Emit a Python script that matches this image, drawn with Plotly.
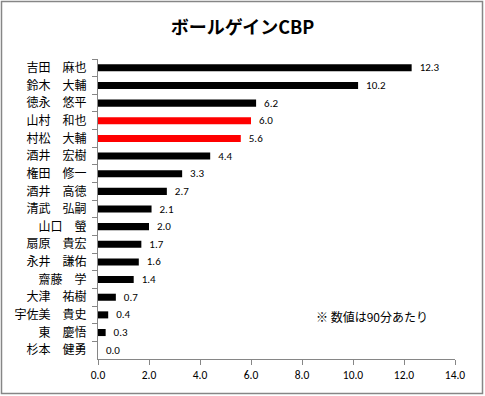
import plotly.graph_objects as go

names = ["吉田　麻也", "鈴木　大輔", "徳永　悠平", "山村　和也", "村松　大輔",
         "酒井　宏樹", "権田　修一", "酒井　高徳", "清武　弘嗣", "山口　螢",
         "扇原　貴宏", "永井　謙佑", "齋藤　学", "大津　祐樹", "宇佐美　貴史",
         "東　慶悟", "杉本　健勇"]
values = [12.3, 10.2, 6.2, 6.0, 5.6, 4.4, 3.3, 2.7, 2.1, 2.0, 1.7, 1.6, 1.4, 0.7, 0.4, 0.3, 0.0]
highlight = ["山村　和也", "村松　大輔"]
x_ticks = [0, 2, 4, 6, 8, 10, 12, 14]
title = "ボールゲインCBP"
note = "※ 数値は90分あたり"

colors = ["#FF0000" if n in highlight else "#000000" for n in names]

jp = "Noto Sans CJK JP, sans-serif"
num = "Carlito, Liberation Sans, Noto Sans CJK JP, sans-serif"

fig = go.Figure(go.Bar(
    y=names, x=values, orientation="h",
    marker=dict(color=colors, line=dict(width=0)),
    width=0.4,
    text=["\u00a0\u00a0" + f"{v:.1f}" for v in values],
    textposition="outside",
    constraintext="none",
    textfont=dict(family=num, size=11, color="#000000"),
    cliponaxis=False,
))

W, H = 485, 396
L, R, T, B = 98, 30, 59, 37
pw, ph = W - L - R, H - T - B

def px_x(p):
    return (p - L) / pw

def px_y(p):
    return (H - B - p) / ph

fig.update_layout(
    width=W, height=H,
    margin=dict(l=L, r=R, t=T, b=B, autoexpand=False),
    paper_bgcolor="white", plot_bgcolor="white",
    showlegend=False,
    title=dict(text=f"<b>{title}</b>", x=0.5, xanchor="center", y=1 - 28 / H, yanchor="middle",
               font=dict(family=jp, size=18, color="#000000")),
    xaxis=dict(range=[0, 14], tickvals=x_ticks, ticktext=[f"{t:.1f}" for t in x_ticks],
               showgrid=False, zeroline=False, showline=True, linecolor="#868686", linewidth=1,
               ticks="outside", ticklen=5, tickcolor="#868686", automargin=False,
               tickfont=dict(family=num, size=11.5, color="#000000")),
    yaxis=dict(autorange="reversed", showgrid=False, showline=True, linecolor="#868686", linewidth=1,
               ticks="outside", ticklen=5, tickcolor="#868686", tickson="boundaries",
               automargin=False, ticklabelstandoff=8,
               tickfont=dict(family=jp, size=12, color="#000000")),
    bargap=0.6,
    annotations=[dict(text=note, xref="paper", yref="paper", x=px_x(372), y=px_y(316),
                      xanchor="center", yanchor="middle", showarrow=False,
                      font=dict(family=jp, size=12, color="#000000"))],
    shapes=[dict(type="rect", xref="paper", yref="paper",
                 x0=px_x(1.5), x1=px_x(482.5), y0=px_y(393.5), y1=px_y(1.5),
                 line=dict(color="#868686", width=1.5), fillcolor="rgba(0,0,0,0)", layer="below")],
)

fig.write_html("out.html", config={"displayModeBar": False, "staticPlot": True},
               post_script="document.body.style.margin='0';document.body.style.overflow='hidden';")
